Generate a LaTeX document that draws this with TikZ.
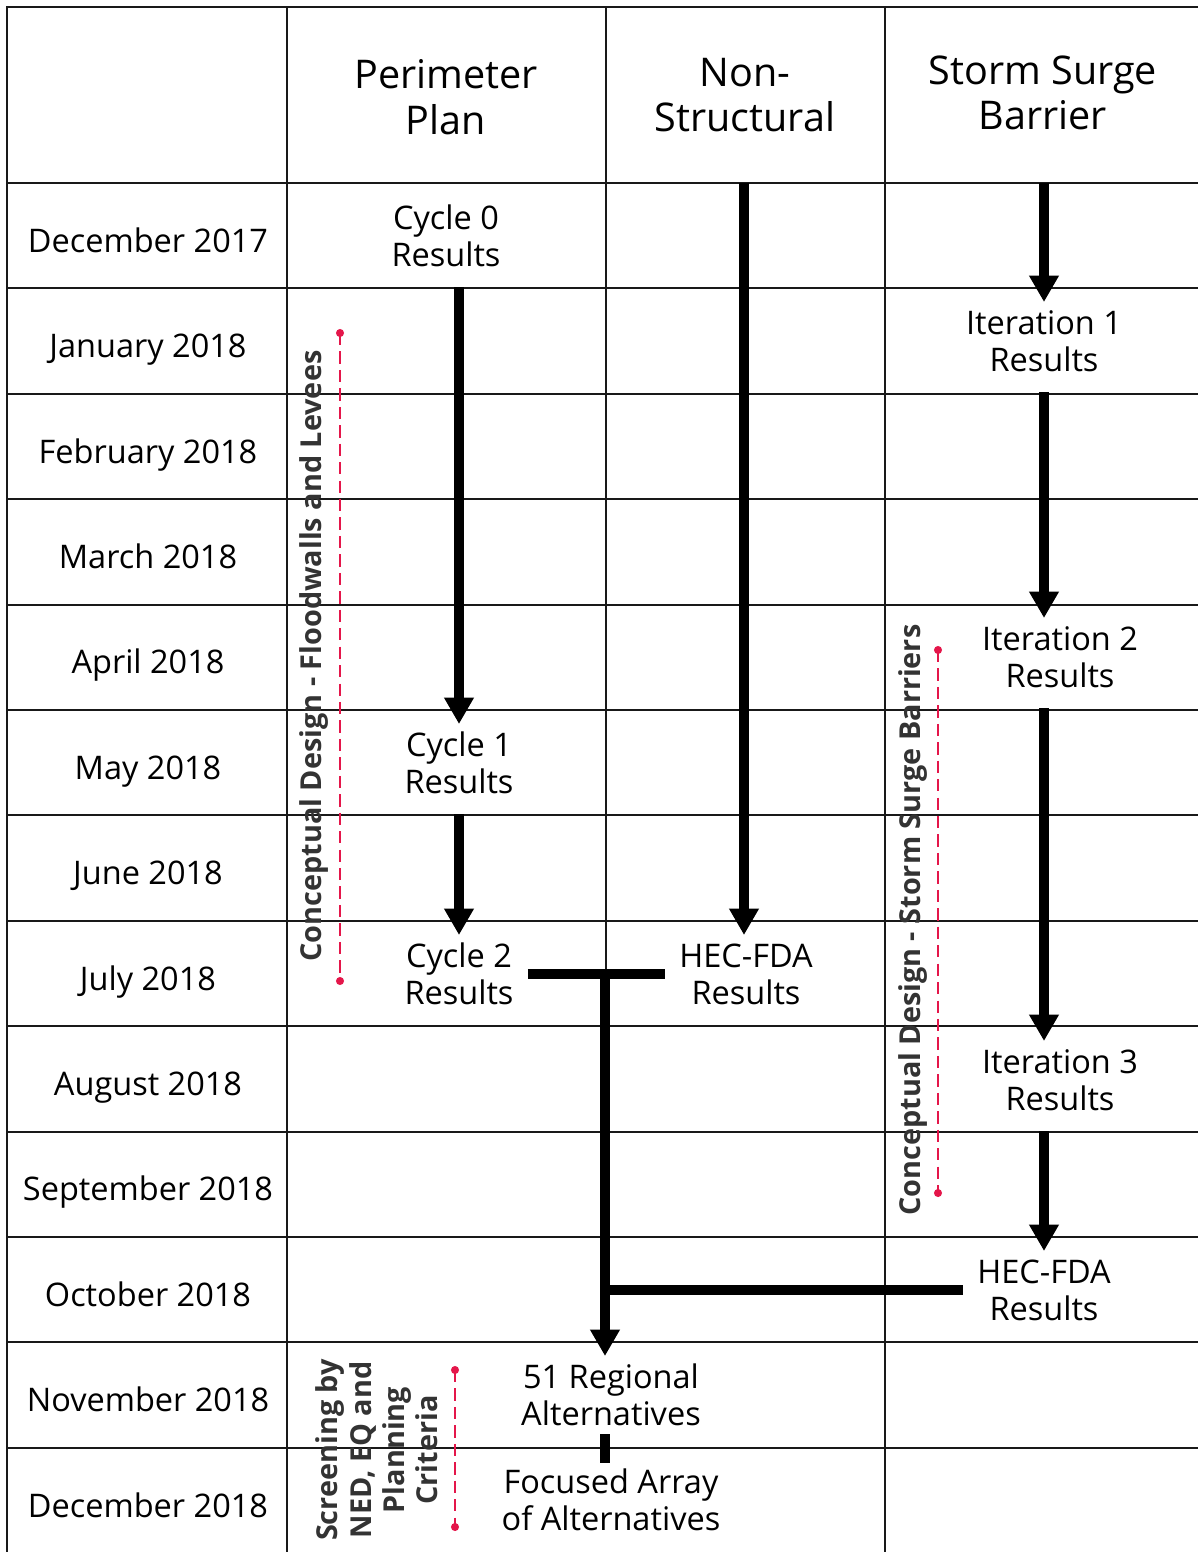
\documentclass[tikz,border=0pt]{standalone}
\usepackage{fontspec}
\setmainfont{Open Sans}
\usetikzlibrary{arrows.meta,calc,positioning}
\definecolor{rulecol}{RGB}{25,25,25}
\definecolor{phasecol}{RGB}{228,22,74}

\begin{document}
\begin{tikzpicture}[x=0.02cm,y=-0.02cm,>=Stealth,
  celltext/.style={font=\fontsize{18.5}{21}\selectfont,align=center,inner xsep=8pt,minimum height=44pt},
  headtext/.style={font=\fontsize{22.5}{26}\selectfont,align=center},
  monthtext/.style={font=\fontsize{18.5}{21}\selectfont,anchor=base},
  phasetext/.style={font=\bfseries\fontsize{16.4}{19}\selectfont,align=center,rotate=90,text=black!80},
  flowarrow/.style={line width=5.7pt,-{Triangle[width=16pt,length=15pt]},shorten <=7pt},
  joinbar/.style={line width=5.7pt},
  phaseline/.style={phasecol,line width=0.9pt,dash pattern=on 7pt off 3.5pt}]
  \useasboundingbox (0,0) rectangle (1198,1552);

  % table rules
  \draw[rulecol,line width=1.7pt] (7,1552) -- (7,7) -- (1198,7);
  \foreach \k in {0,...,12}
    \draw[rulecol,line width=1.1pt] (7,{183+105.4*\k}) -- (1198,{183+105.4*\k});
  \draw[rulecol,line width=1.1pt] (287,7) -- (287,1552) (606,7) -- (606,1342) (885,7) -- (885,1552);

  % column heads
  \node[headtext] (perim) at (446,97) {Perimeter\\Plan};
  \node[headtext] (nonstr) at (745,95) {Non-\\Structural};
  \node[headtext] (storm) at (1043,93) {Storm Surge\\Barrier};

  % months
  \foreach \m [count=\i from 0] in {December 2017,January 2018,February 2018,March 2018,April 2018,May 2018,June 2018,July 2018,August 2018,September 2018,October 2018,November 2018,December 2018}
    \node[monthtext] (m\i) at (148,{235.7+105.4*\i+16.5}) {\m};

  % milestones
  \node[celltext] (cyc0) at (446,236) {Cycle 0\\Results};
  \node[celltext] (cyc1) at (459,763) {Cycle 1\\Results};
  \node[celltext] (cyc2) at (459,974) {Cycle 2\\Results};
  \node[celltext] (fdans) at (746,974) {HEC-FDA\\Results};
  \node[celltext] (iter1) at (1044,341) {Iteration 1\\Results};
  \node[celltext] (iter2) at (1060,657) {Iteration 2\\Results};
  \node[celltext] (iter3) at (1060,1080) {Iteration 3\\Results};
  \node[celltext] (fdass) at (1044,1290) {HEC-FDA\\Results};
  \node[celltext] (regional) at (611,1395) {51 Regional\\Alternatives};
  \node[celltext,minimum height=38pt] (focused) at (611,1500) {Focused Array\\of Alternatives};

  \coordinate (nstop) at (744,183);
  \coordinate (sstop) at (1044,183);
  \coordinate (join) at (605,974);

  % flow
  \draw[flowarrow] (cyc0.south -| cyc1) -- (cyc1.north);
  \draw[flowarrow] (cyc1.south) -- (cyc2.north);
  \draw[flowarrow,shorten <=0pt] (nstop) -- (nstop |- fdans.north);
  \draw[flowarrow,shorten <=0pt] (sstop) -- (iter1.north);
  \draw[flowarrow] (iter1.south) -- (iter1.south |- iter2.north);
  \draw[flowarrow] (iter2.south -| iter1) -- (iter1 |- iter3.north);
  \draw[flowarrow] (iter3.south -| iter1) -- (fdass.north);
  \draw[joinbar] (cyc2.east) -- (fdans.west);
  \draw[flowarrow,shorten <=0pt] (join) -- (join |- regional.north);
  \draw[joinbar] (fdass.west) -- (fdass.west -| join);
  \draw[joinbar] (regional.south -| join) -- (focused.north -| join);

  % design phases
  \coordinate (fw0) at (340,333);
  \coordinate (fw1) at (340,981);
  \draw[phaseline] (fw0) -- (fw1);
  \fill[phasecol] (fw0) circle (2.3pt) (fw1) circle (2.3pt);
  \node[phasetext] (fwtext) at (314,656) {Conceptual Design - Floodwalls and Levees};

  \coordinate (sb0) at (938,650);
  \coordinate (sb1) at (938,1193);
  \draw[phaseline] (sb0) -- (sb1);
  \fill[phasecol] (sb0) circle (2.3pt) (sb1) circle (2.3pt);
  \node[phasetext] (sbtext) at (913,920) {Conceptual Design - Storm Surge Barriers};

  \coordinate (sc0) at (455,1370);
  \coordinate (sc1) at (455,1527);
  \draw[phaseline] (sc0) -- (sc1);
  \fill[phasecol] (sc0) circle (2.3pt) (sc1) circle (2.3pt);
  \node[phasetext] (sctext) at (377,1450) {Screening by\\NED, EQ and\\Planning\\Criteria};
\end{tikzpicture}
\end{document}
